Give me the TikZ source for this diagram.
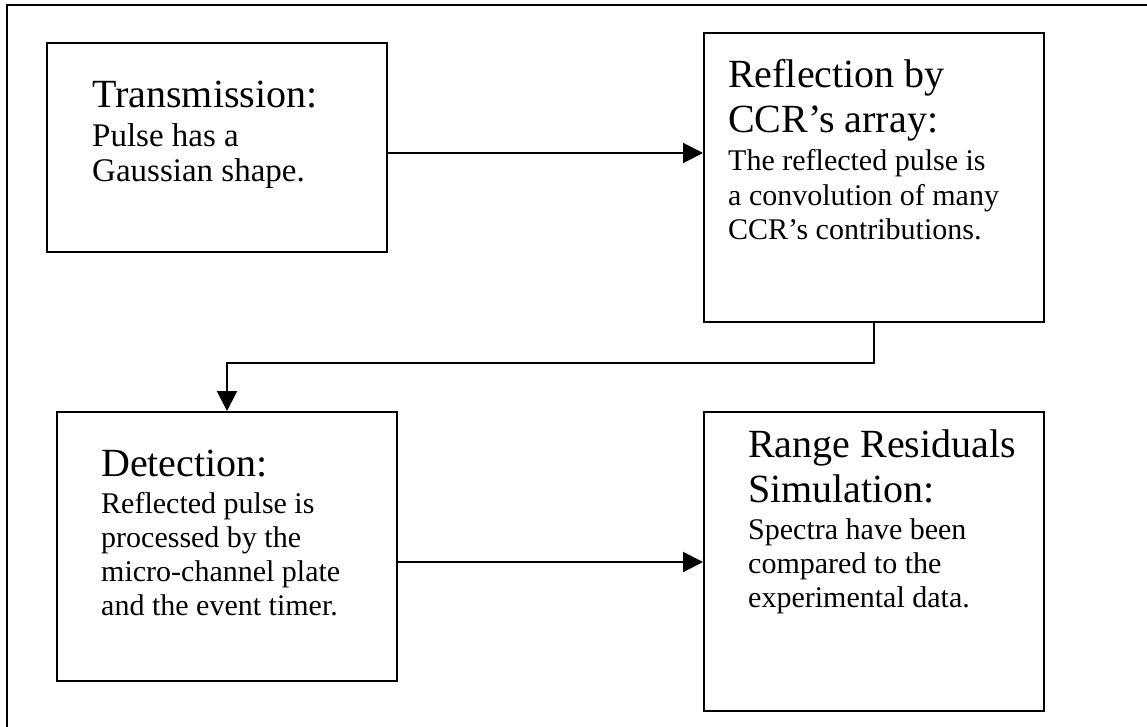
\documentclass[tikz,border=0pt]{standalone}
\usepackage{fontspec}
\setmainfont{Liberation Serif}
\usetikzlibrary{arrows.meta}
\newcommand\hfnt{\fontsize{40}{45}\selectfont}
\newcommand\bfnt{\fontsize{30}{34.3}\selectfont}
\newcommand\bfntbig{\fontsize{33}{35}\selectfont}
\newcommand\blurbtext[1]{\parbox[t]{330pt}{\spaceskip=0pt\xspaceskip=0pt\parindent=0pt #1}}
\begin{document}
\begin{tikzpicture}[x=1pt,y=-1pt,
  stage/.style={draw=black, line width=2pt, inner sep=0pt, minimum width=340pt},
  blurb/.style={anchor=base west, inner sep=0pt},
  flow/.style={line width=2pt, -{Triangle[length=20pt,width=20pt]}},
  outerline/.style={line width=2pt}]
\useasboundingbox (0,0) rectangle (1147,727);
% outer frame (right and bottom sides lie outside the picture)
\draw[outerline] (7,727) -- (7,5) -- (1147,5);
% boxes
\node[stage, minimum height=209pt] (b1) at (217,147.5) {};
\node[stage, minimum height=289pt] (b2) at (874,177.5) {};
\node[stage, minimum height=269pt] (b3) at (227,546.5) {};
\node[stage, minimum height=299pt] (b4) at (874,561.5) {};
% texts
\node[blurb] (t1) at (92,107.3) {\blurbtext{\hfnt Transmission:\par\vspace{4.4pt}\bfntbig Pulse has a\\Gaussian shape.\par}};
\node[blurb] (t2) at (728,88) {\blurbtext{\hfnt Reflection by\\CCR’s array:\par\vspace{3.7pt}\bfnt The reflected pulse is\\a convolution of many\\CCR’s contributions.\par}};
\node[blurb] (t3) at (101,476) {\blurbtext{\hfnt Detection:\par\vspace{2.7pt}\bfnt Reflected pulse is\\processed by the\\micro-channel plate\\and the event timer.\par}};
\node[blurb] (t4) at (748,457) {\blurbtext{\hfnt Range Residuals\\Simulation:\par\vspace{2.7pt}\bfnt Spectra have been\\compared to the\\experimental data.\par}};
% connectors
\coordinate (r1) at (0,153);
\coordinate (r3) at (0,562);
\draw[flow] (b1.east |- r1) -- (b2.west |- r1);
\draw[flow] (b2.south) -- ++(0,40) -| (b3.north);
\draw[flow] (b3.east |- r3) -- (b4.west |- r3);
\end{tikzpicture}
\end{document}
